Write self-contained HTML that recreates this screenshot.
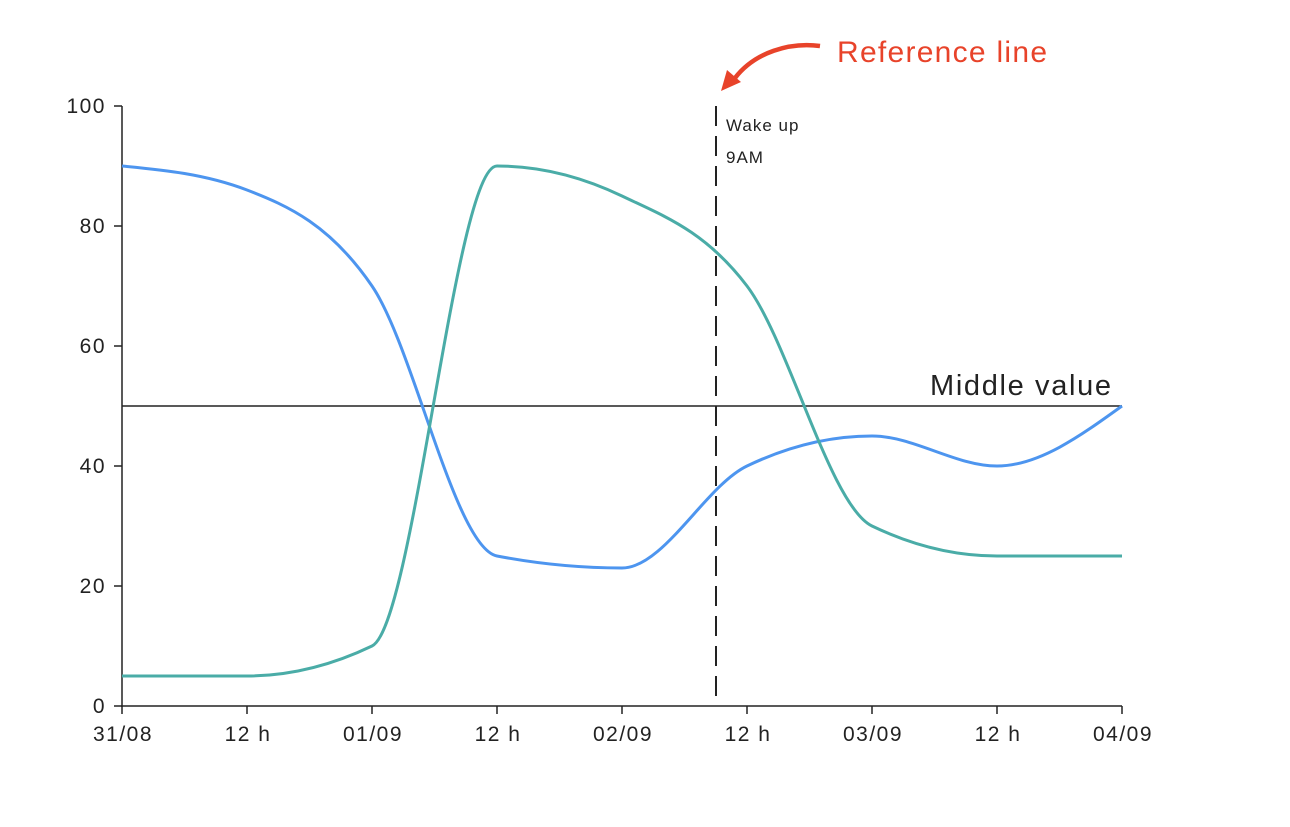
<!DOCTYPE html>
<html><head><meta charset="utf-8"><style>
body{margin:0;background:#fff;}
svg text{font-family:"Liberation Sans",sans-serif;}
</style></head><body>
<svg width="1290" height="822" xmlns="http://www.w3.org/2000/svg">
<g stroke="#222" stroke-width="1.5" fill="none">
<line x1="122" y1="106" x2="122" y2="707"/>
<line x1="121" y1="706" x2="1122" y2="706"/>
<line x1="114" y1="106" x2="122" y2="106"/>
<line x1="114" y1="226" x2="122" y2="226"/>
<line x1="114" y1="346" x2="122" y2="346"/>
<line x1="114" y1="466" x2="122" y2="466"/>
<line x1="114" y1="586" x2="122" y2="586"/>
<line x1="114" y1="706" x2="122" y2="706"/>
<line x1="122" y1="706" x2="122" y2="714"/>
<line x1="247" y1="706" x2="247" y2="714"/>
<line x1="372" y1="706" x2="372" y2="714"/>
<line x1="497" y1="706" x2="497" y2="714"/>
<line x1="622" y1="706" x2="622" y2="714"/>
<line x1="747" y1="706" x2="747" y2="714"/>
<line x1="872" y1="706" x2="872" y2="714"/>
<line x1="997" y1="706" x2="997" y2="714"/>
<line x1="1122" y1="706" x2="1122" y2="714"/>
</g>
<g font-size="21" fill="#222" text-anchor="end" letter-spacing="1.5">
<text x="106" y="113">100</text><text x="106" y="233">80</text><text x="106" y="353">60</text>
<text x="106" y="473">40</text><text x="106" y="593">20</text><text x="106" y="713">0</text>
</g>
<g font-size="21" fill="#222" text-anchor="middle" letter-spacing="1.5">
<text x="123" y="741">31/08</text><text x="248" y="741">12 h</text><text x="373" y="741">01/09</text>
<text x="498" y="741">12 h</text><text x="623" y="741">02/09</text><text x="748" y="741">12 h</text>
<text x="873" y="741">03/09</text><text x="998" y="741">12 h</text><text x="1123" y="741">04/09</text>
</g>
<line x1="122" y1="406" x2="1122" y2="406" stroke="#222" stroke-width="1.5"/>
<text x="930" y="395" font-size="29" fill="#222" textLength="181" lengthAdjust="spacing">Middle value</text>
<line x1="716" y1="106" x2="716" y2="696" stroke="#222" stroke-width="2" stroke-dasharray="20 10"/>
<text x="726" y="131" font-size="17" fill="#222" letter-spacing="1">Wake up</text>
<text x="726" y="163" font-size="17" fill="#222" letter-spacing="1">9AM</text>
<path d="M122,166 C163.67,170 205.33,174 247,190 C288.67,206 330.33,225 372,286 C413.67,347 455.33,548 497,556 C538.67,564 580.33,568 622,568 C663.67,568 705.33,486 747,466 C788.67,446 830.33,436 872,436 C913.67,436 955.33,466 997,466 C1038.67,466 1080.33,436 1122,406" fill="none" stroke="#4d95ef" stroke-width="3"/>
<path d="M122,676 L247,676 C288.67,676 330.33,666 372,646 C413.67,626 455.33,166 497,166 C538.67,166 580.33,176 622,196 C663.67,216 705.33,231 747,286 C788.67,341 830.33,506 872,526 C913.67,546 955.33,556 997,556 L1122,556" fill="none" stroke="#4aaca7" stroke-width="3"/>
<path d="M820,46 C790,42 755,52 735,78" fill="none" stroke="#e8432a" stroke-width="4.5"/>
<polygon points="721,91 727,70 741,82" fill="#e8432a"/>
<text x="837" y="62" font-size="30" fill="#e8432a" textLength="210" lengthAdjust="spacing">Reference line</text>
</svg>
</body></html>
